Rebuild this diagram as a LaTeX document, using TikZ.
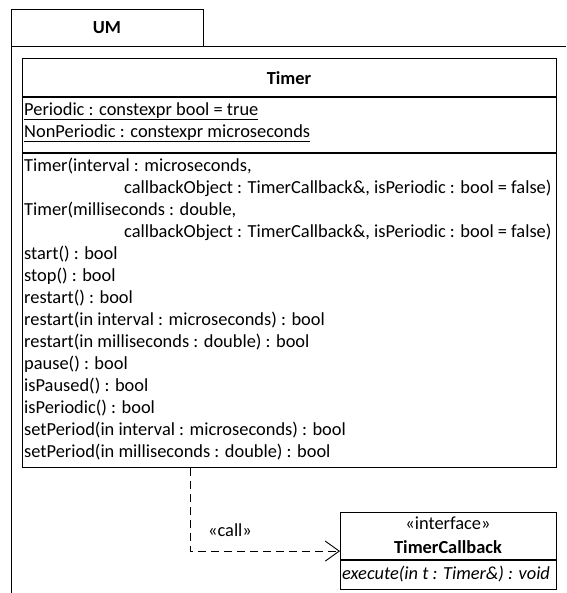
\documentclass[tikz,border=0pt]{standalone}
\usepackage{fontspec}
\setmainfont{Carlito}
\usetikzlibrary{arrows.meta}

\begin{document}
\begin{tikzpicture}[x=1pt,y=-1pt,
  box/.style={draw,line width=1.2pt,inner sep=0pt,anchor=north west},
  member/.style={anchor=west,inner sep=0pt,text height=13pt,text depth=4.5pt,
    font=\fontsize{18.4}{22}\selectfont},
  title/.style={inner sep=0pt,font=\fontsize{18.4}{22}\selectfont\bfseries},
  dep/.style={line width=0.9pt,dash pattern=on 8pt off 5pt,
    -{Straight Barb[length=14pt,width=20pt]}}]

\useasboundingbox (0,0) rectangle (566,593);

% Einrueckung der Fortsetzungszeilen
\def\ind{124}

% ------------------- Paket -------------------
\draw[line width=1pt] (11,593) -- (11,10) -- (203,10) -- (203,47);
\draw[line width=1pt] (11,47) -- (566,47);
\node[title] (um) at (107,28) {UM};

% ------------------- Klasse Timer -------------------
\node[box,minimum width=534pt,minimum height=409pt] (timer) at (22,58) {};
\draw[line width=1.2pt] (22,97) -- (556,97);
\draw[line width=1.2pt] (22,153) -- (556,153);
\node[title] (timerName) at (289,78) {Timer};

% Attribute
\node[member] (attrPeriodic) at (24,111) {\underline{Periodic : constexpr bool = true}};
\node[member] (attrNonPeriodic) at (24,133) {\underline{NonPeriodic : constexpr microseconds}};

% Operationen
\node[member] (opCtorA) at (24,167) {Timer(interval : microseconds,};
\node[member] (opCtorAb) at (\ind,189) {callbackObject : TimerCallback\&, isPeriodic : bool = false)};
\node[member] (opCtorB) at (24,211) {Timer(milliseconds : double,};
\node[member] (opCtorBb) at (\ind,233) {callbackObject : TimerCallback\&, isPeriodic : bool = false)};
\node[member] (opStart) at (24,255) {start() : bool};
\node[member] (opStop) at (24,277) {stop() : bool};
\node[member] (opRestart) at (24,299) {restart() : bool};
\node[member] (opRestartUs) at (24,321) {restart(in interval : microseconds) : bool};
\node[member] (opRestartMs) at (24,343) {restart(in milliseconds : double) : bool};
\node[member] (opPause) at (24,365) {pause() : bool};
\node[member] (opIsPaused) at (24,387) {isPaused() : bool};
\node[member] (opIsPeriodic) at (24,409) {isPeriodic() : bool};
\node[member] (opSetPeriodUs) at (24,431) {setPeriod(in interval : microseconds) : bool};
\node[member] (opSetPeriodMs) at (24,453) {setPeriod(in milliseconds : double) : bool};

% ------------------- Schnittstelle TimerCallback -------------------
\node[box,minimum width=216pt,minimum height=77pt] (callback) at (340,512) {};
\draw[line width=1.2pt] (340,560) -- (556,560);
\node[member,anchor=center] (cbStereo) at (448,525) {«interface»};
\node[title] (cbName) at (448,547) {TimerCallback};
\node[member,font=\fontsize{18.4}{22}\selectfont\itshape] (cbExecute) at (342,575)
  {execute(in t : Timer\&) : void};

% Abhaengigkeit
\draw[dep] ([xshift=168pt]timer.south west) |- (callback.west);
\node[member,anchor=center] (callLbl) at (230,532) {«call»};

\end{tikzpicture}
\end{document}
